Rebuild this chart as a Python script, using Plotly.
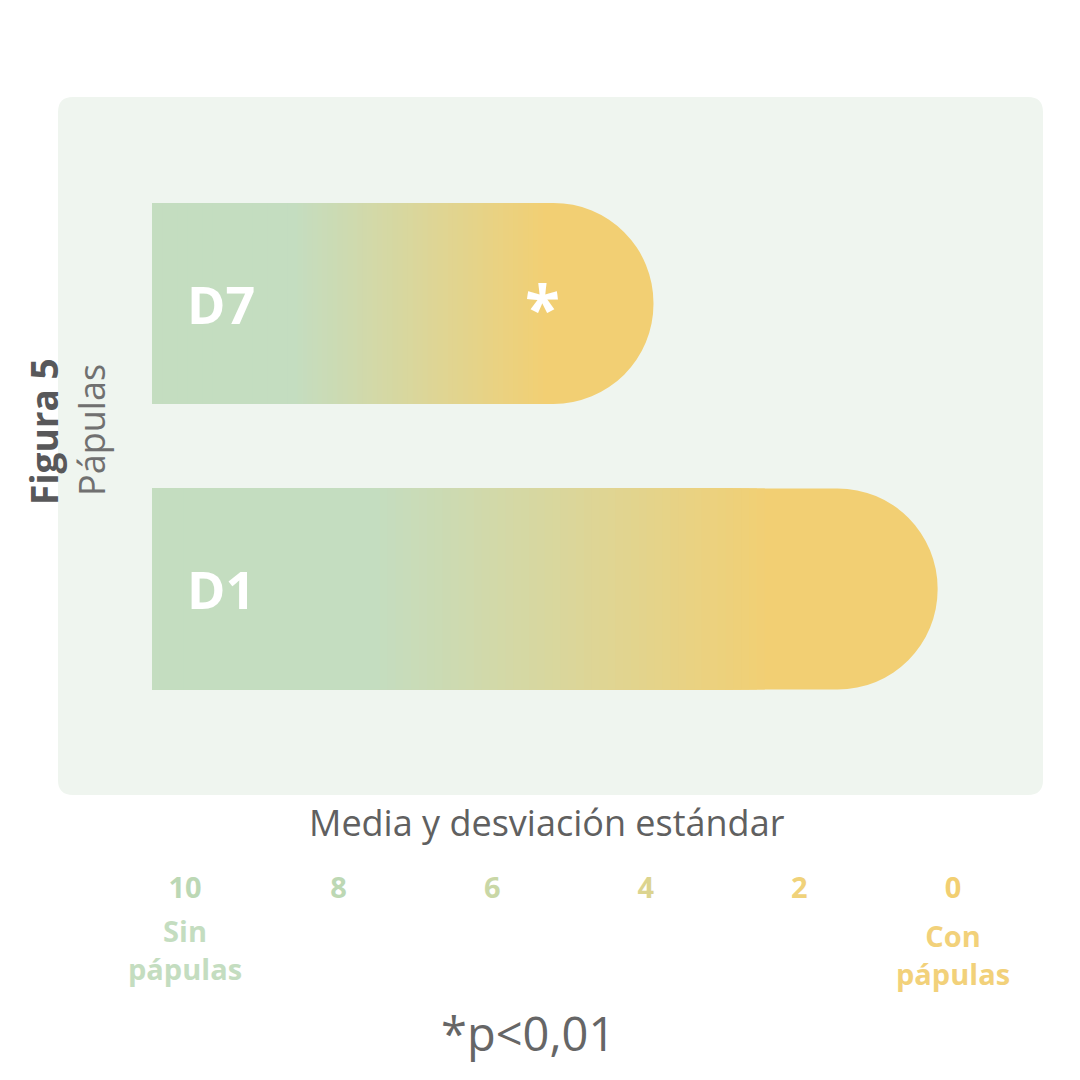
import plotly.graph_objects as go

# Data
categorias = ['D1', 'D7']
medias = [0.2, 3.9]          # where each bar ends on the (reversed) scale
inicio = 10.43               # bars start just left of 10
marcas = ['', '*']           # significance mark per bar
marca_x = 5.35
tick_vals = [10, 8, 6, 4, 2, 0]
tick_colores = ['#bcd8b5', '#bdd8b4', '#c9d7a6', '#dcd48f', '#f0d27a', '#f2cf72']

verde = (196, 221, 192)
amarillo = (242, 207, 115)
FONT = 'Open Sans'


def color_en(t):
    # green plateau -> blend -> yellow plateau along the bar
    if t <= 0.29:
        f = 0
    elif t >= 0.79:
        f = 1
    else:
        f = (t - 0.29) / 0.50
    r, g, b = [round(a + (c - a) * f) for a, c in zip(verde, amarillo)]
    return f'rgb({r},{g},{b})'


largos = [m - inicio for m in medias]
fig = go.Figure()

# full bar with rounded end (yellow)
fig.add_trace(go.Bar(y=categorias, x=largos, base=[inicio] * len(categorias),
                     orientation='h', width=0.704,
                     marker=dict(color=color_en(1), cornerradius='50%', line_width=0),
                     hoverinfo='skip'))

# gradient: shorter bars painted on top (stop before the rounded end)
for k in range(78, 0, -1):
    f = k / 100
    fig.add_trace(go.Bar(y=categorias, x=[l * f for l in largos],
                         base=[inicio] * len(categorias),
                         orientation='h', width=0.704,
                         marker=dict(color=color_en(f), line_width=0),
                         hoverinfo='skip'))


def nota(text, x, y, size, color, xref='paper', yref='paper', **kw):
    fig.add_annotation(x=x, y=y, xref=xref, yref=yref, text=text, showarrow=False,
                       xanchor=kw.pop('xanchor', 'center'), yanchor='middle',
                       font=dict(family=FONT, size=size, color=color), **kw)


# labels inside bars
for cat, marca in zip(categorias, marcas):
    nota(f'<b>{cat}</b>', 10, cat, 52, 'white', xref='x', yref='y', xanchor='left')
    if marca:
        nota(f'<b>{marca}</b>', marca_x, cat, 64, 'white', xref='x', yref='y', yshift=-4)

# axis title and notes
nota('Media y desviación estándar', 0.4964, -0.0387, 36, '#606060')
nota('<b>Sin<br>pápulas</b>', 10, -0.222, 29, '#c4ddc0', xref='x')
nota('<b>Con<br>pápulas</b>', 0, -0.229, 29, '#f2d17a', xref='x')
nota('*p<0,01', 0.477, -0.341, 47, '#666666')

# y title
nota('<b>Figura 5</b>', -0.0152, 0.520, 37, '#58585a', textangle=-90)
nota('Pápulas', 0.0345, 0.523, 36, '#707070', textangle=-90)

# rounded background panel
rx, ry = 15 / 985, 15 / 698
panel = (f'M {rx},0 L {1 - rx},0 Q 1,0 1,{ry} L 1,{1 - ry} Q 1,1 {1 - rx},1 '
         f'L {rx},1 Q 0,1 0,{1 - ry} L 0,{ry} Q 0,0 {rx},0 Z')
fig.add_shape(type='path', path=panel, xref='paper', yref='paper',
              fillcolor='#eff5ef', line_width=0, layer='below')

fig.update_layout(
    width=1080, height=1080,
    margin=dict(l=50, r=45, t=89, b=293),
    paper_bgcolor='white', plot_bgcolor='rgba(0,0,0,0)',
    barmode='overlay', showlegend=False,
    xaxis=dict(range=[11.654, -1.172], showgrid=False, zeroline=False, showline=False,
               tickvals=tick_vals,
               ticktext=[f'<span style="color:{c}"><b>{v}</b></span>'
                         for v, c in zip(tick_vals, tick_colores)],
               tickfont=dict(family=FONT, size=29), ticklabelstandoff=73),
    yaxis=dict(categoryorder='array', categoryarray=categorias,
               range=[-0.7215, 1.723], visible=False),
)

fig.write_html('out.html')
